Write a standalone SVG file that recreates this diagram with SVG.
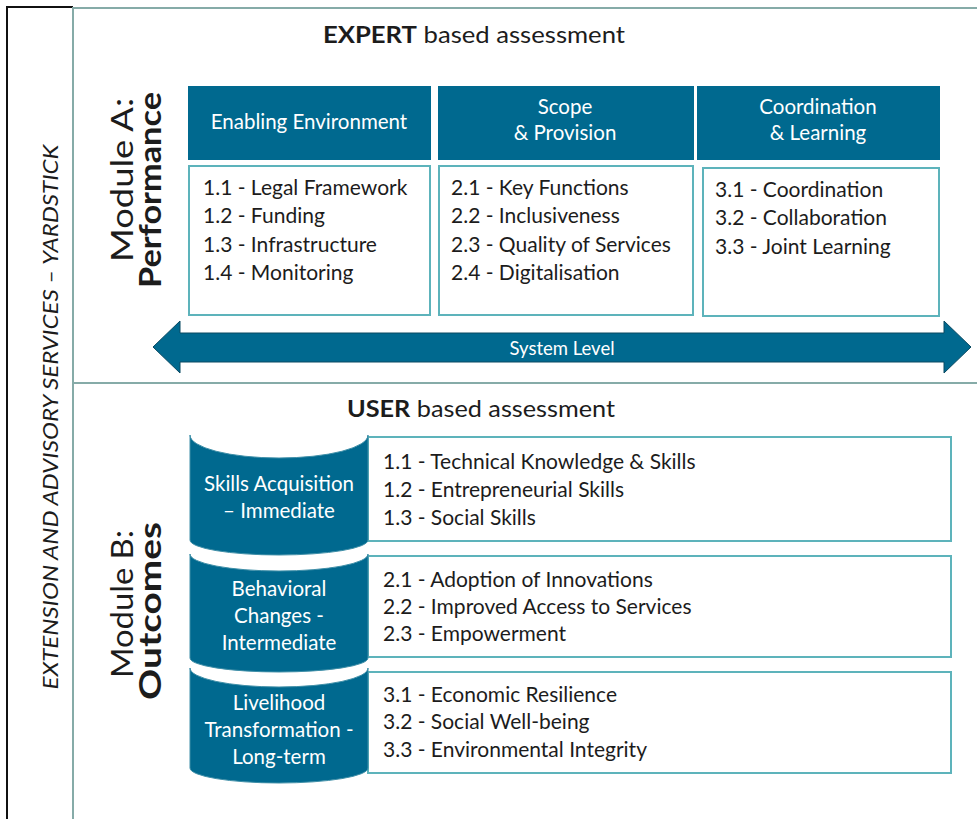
<svg xmlns="http://www.w3.org/2000/svg" width="977" height="819" viewBox="0 0 977 819">
<style>
text{font-family:Lato,"Open Sans","Liberation Sans",sans-serif;fill:#1c1c1c}
.frame{stroke:#86aba8;stroke-width:2;fill:none}
.hdr{fill:#00698f}
.hdrt{fill:#ffffff;font-size:20.5px;text-anchor:middle}
.box{fill:#ffffff;stroke:#5db3bb;stroke-width:2}
.item{font-size:21px}
.cyl{fill:#00698f;stroke:#3f8fa8;stroke-width:1}
.cylt{fill:#ffffff;font-size:20.5px;text-anchor:middle}
.title{font-size:23px;text-anchor:middle}
.mod{font-size:30px;text-anchor:middle}
</style>
<g id="frame">
<line x1="7" y1="7" x2="7" y2="819" stroke="#111" stroke-width="2"/>
<line x1="6" y1="7" x2="73" y2="7" stroke="#111" stroke-width="2"/>
<line x1="73" y1="8" x2="977" y2="8" class="frame"/>
<line x1="73" y1="7" x2="73" y2="819" class="frame"/>
<line x1="73" y1="383" x2="977" y2="383" class="frame"/>
</g>
<g id="side-label">
<text transform="translate(58,417) rotate(-90)" font-size="22" font-style="italic" text-anchor="middle" textLength="545" lengthAdjust="spacingAndGlyphs">EXTENSION AND ADVISORY SERVICES – YARDSTICK</text>
</g>
<g id="module-a-label">
<text class="mod" transform="translate(133,180) rotate(-90)" textLength="164" lengthAdjust="spacingAndGlyphs">Module A:</text>
<text class="mod" font-weight="bold" transform="translate(161,190) rotate(-90)" textLength="196" lengthAdjust="spacingAndGlyphs">Performance</text>
</g>
<g id="module-b-label">
<text class="mod" transform="translate(133,604) rotate(-90)" textLength="148" lengthAdjust="spacingAndGlyphs">Module B:</text>
<text class="mod" font-weight="bold" transform="translate(161,611) rotate(-90)" textLength="178" lengthAdjust="spacingAndGlyphs">Outcomes</text>
</g>
<g id="expert-title">
<text class="title" x="474" y="43" textLength="302" lengthAdjust="spacingAndGlyphs"><tspan font-weight="bold">EXPERT</tspan> based assessment</text>
</g>
<g id="user-title">
<text class="title" x="481" y="417" textLength="268" lengthAdjust="spacingAndGlyphs"><tspan font-weight="bold">USER</tspan> based assessment</text>
</g>
<g id="enabling-environment">
<rect class="hdr" x="188" y="86" width="243" height="74"/>
<text class="hdrt" x="309" y="129">Enabling Environment</text>
<rect class="box" x="189" y="166" width="241" height="149"/>
<text class="item" x="203" y="195">1.1 - Legal Framework</text>
<text class="item" x="203" y="223">1.2 - Funding</text>
<text class="item" x="203" y="252">1.3 - Infrastructure</text>
<text class="item" x="203" y="280">1.4 - Monitoring</text>
</g>
<g id="scope-provision">
<rect class="hdr" x="438" y="86" width="256" height="74"/>
<text class="hdrt" x="565" y="114">Scope</text>
<text class="hdrt" x="565" y="140">&amp; Provision</text>
<rect class="box" x="439" y="166" width="254" height="149"/>
<text class="item" x="451" y="195">2.1 - Key Functions</text>
<text class="item" x="451" y="223">2.2 - Inclusiveness</text>
<text class="item" x="451" y="252">2.3 - Quality of Services</text>
<text class="item" x="451" y="280">2.4 - Digitalisation</text>
</g>
<g id="coordination-learning">
<rect class="hdr" x="697" y="86" width="243" height="74"/>
<text class="hdrt" x="818" y="114">Coordination</text>
<text class="hdrt" x="818" y="140">&amp; Learning</text>
<rect class="box" x="703" y="168" width="236" height="148"/>
<text class="item" x="715" y="197">3.1 - Coordination</text>
<text class="item" x="715" y="225">3.2 - Collaboration</text>
<text class="item" x="715" y="254">3.3 - Joint Learning</text>
</g>
<g id="system-level">
<polygon points="153,347 180,321 180,333 944,333 944,321 971,347 944,373 944,362 180,362 180,373" fill="#00698f" stroke="#0b4a62" stroke-width="1"/>
<text x="562" y="355" font-size="18.5" text-anchor="middle" style="fill:#ffffff">System Level</text>
</g>
<g id="skills-acquisition">
<rect class="box" x="368" y="437" width="583" height="104"/>
<path class="cyl" d="M190,435 A89,23 0 0 0 368,435 L368,540 A89,15 0 0 1 190,540 Z"/>
<text class="cylt" x="279" y="491" style="fill:#fff">Skills Acquisition</text>
<text class="cylt" x="279" y="518" style="fill:#fff">– Immediate</text>
<text class="item" x="383" y="469">1.1 - Technical Knowledge &amp; Skills</text>
<text class="item" x="383" y="497">1.2 - Entrepreneurial Skills</text>
<text class="item" x="383" y="525">1.3 - Social Skills</text>
</g>
<g id="behavioral-changes">
<rect class="box" x="368" y="556" width="583" height="101"/>
<path class="cyl" d="M190,554 A89,17 0 0 0 368,554 L368,658 A89,14 0 0 1 190,658 Z"/>
<text class="cylt" x="279" y="596" style="fill:#fff">Behavioral</text>
<text class="cylt" x="279" y="623" style="fill:#fff">Changes -</text>
<text class="cylt" x="279" y="650" style="fill:#fff">Intermediate</text>
<text class="item" x="383" y="587">2.1 - Adoption of Innovations</text>
<text class="item" x="383" y="614">2.2 - Improved Access to Services</text>
<text class="item" x="383" y="641">2.3 - Empowerment</text>
</g>
<g id="livelihood-transformation">
<rect class="box" x="368" y="672" width="583" height="101"/>
<path class="cyl" d="M190,668 A89,19 0 0 0 368,668 L368,768 A89,15 0 0 1 190,768 Z"/>
<text class="cylt" x="279" y="710" style="fill:#fff">Livelihood</text>
<text class="cylt" x="279" y="737" style="fill:#fff">Transformation -</text>
<text class="cylt" x="279" y="764" style="fill:#fff">Long-term</text>
<text class="item" x="383" y="702">3.1 - Economic Resilience</text>
<text class="item" x="383" y="729">3.2 - Social Well-being</text>
<text class="item" x="383" y="757">3.3 - Environmental Integrity</text>
</g>
<g id="connectors"></g>
</svg>
